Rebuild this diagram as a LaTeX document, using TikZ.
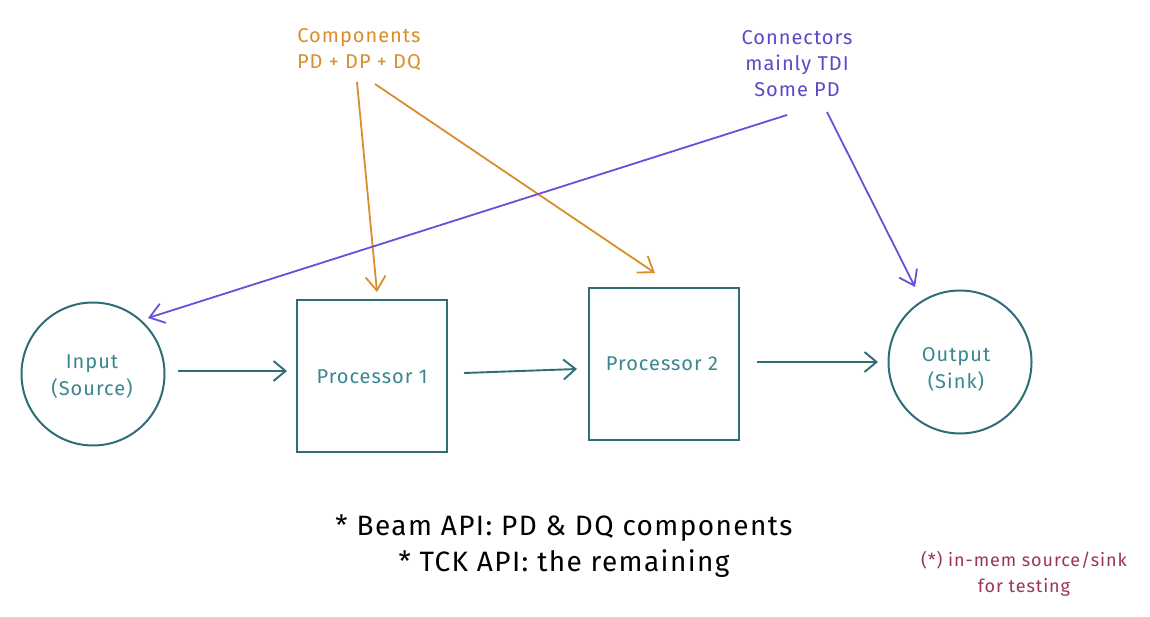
\documentclass[tikz,border=0pt]{standalone}
\usepackage{fontspec}
\setmainfont{Fira Sans}
\usetikzlibrary{arrows.meta}
\definecolor{teal}{HTML}{2F6E78}
\definecolor{tealtext}{HTML}{3A8691}
\definecolor{orangeink}{HTML}{D98E2A}
\definecolor{purpleink}{HTML}{6A4FD8}
\definecolor{purpletext}{HTML}{5A4AC6}
\definecolor{noteink}{HTML}{9A3558}
\newcommand\spaced[2]{\fontsize{#1}{#2}\selectfont\addfontfeature{LetterSpace=5}}
\tikzset{
  flow/.style={draw=teal, line width=1.9pt, -{Straight Barb[length=12pt,width=20pt,line width=1.9pt]}},
  pointer/.style={line width=1.8pt, -{Straight Barb[length=14pt,width=20pt,line width=1.8pt]}},
  procbox/.style={draw=teal, line width=2pt, minimum width=150pt, minimum height=151pt, inner sep=0pt},
  endpoint/.style={draw=teal, line width=2pt, circle, minimum size=143pt, inner sep=0pt},
  ink/.style={font=\spaced{20}{27}, text=tealtext, align=center},
  tag/.style={font=\spaced{20}{26}, align=center},
  footnote/.style={font=\spaced{28}{36}, align=center, text=black},
  aside/.style={font=\spaced{18}{26}, align=center, text=noteink}
}
\begin{document}
\begin{tikzpicture}[x=1pt, y=-1pt]
\useasboundingbox[fill=white] (0,0) rectangle (1150,617);

% pipeline stages
\node[endpoint] (src) at (93,374) {};
\node[ink] at (92,377) {Input\\(Source)};
\node[procbox] (p1) at (372,376) {};
\node[ink] at (372,377) {Processor 1};
\node[procbox] (p2) at (664,364) {};
\node[ink] at (662,364) {Processor 2};
\node[endpoint] (snk) at (960,362) {};
\node[ink] at (956,369) {Output\\(Sink)};

% data flow between stages
\coordinate (a1s) at (178,371); \coordinate (a1e) at (287,371);
\coordinate (a2s) at (464,373); \coordinate (a2e) at (577,369);
\coordinate (a3s) at (757,362); \coordinate (a3e) at (878,362);
\draw[flow] (a1s) -- (a1e);
\draw[flow] (a2s) -- (a2e);
\draw[flow] (a3s) -- (a3e);

% component annotation
\node[tag, text=orangeink] (comp) at (359,50) {Components\\PD + DP + DQ};
\coordinate (c1s) at (357,82); \coordinate (c1e) at (377,292);
\coordinate (c2s) at (375,84); \coordinate (c2e) at (655,273);
\draw[pointer, draw=orangeink] (c1s) -- (c1e);
\draw[pointer, draw=orangeink] (c2s) -- (c2e);

% connector annotation
\node[tag, text=purpletext] (conn) at (797,64) {Connectors\\mainly TDI\\Some PD};
\coordinate (k1s) at (787,115); \coordinate (k1e) at (148,318);
\coordinate (k2s) at (827,112); \coordinate (k2e) at (915,287);
\draw[pointer, draw=purpleink] (k1s) -- (k1e);
\draw[pointer, draw=purpleink] (k2s) -- (k2e);

% notes
\node[footnote] (apis) at (564,546) {* Beam API: PD \& DQ components\\* TCK API: the remaining};
\node[aside] (mem) at (1024,574) {(*) in-mem source/sink\\for testing};
\end{tikzpicture}
\end{document}
